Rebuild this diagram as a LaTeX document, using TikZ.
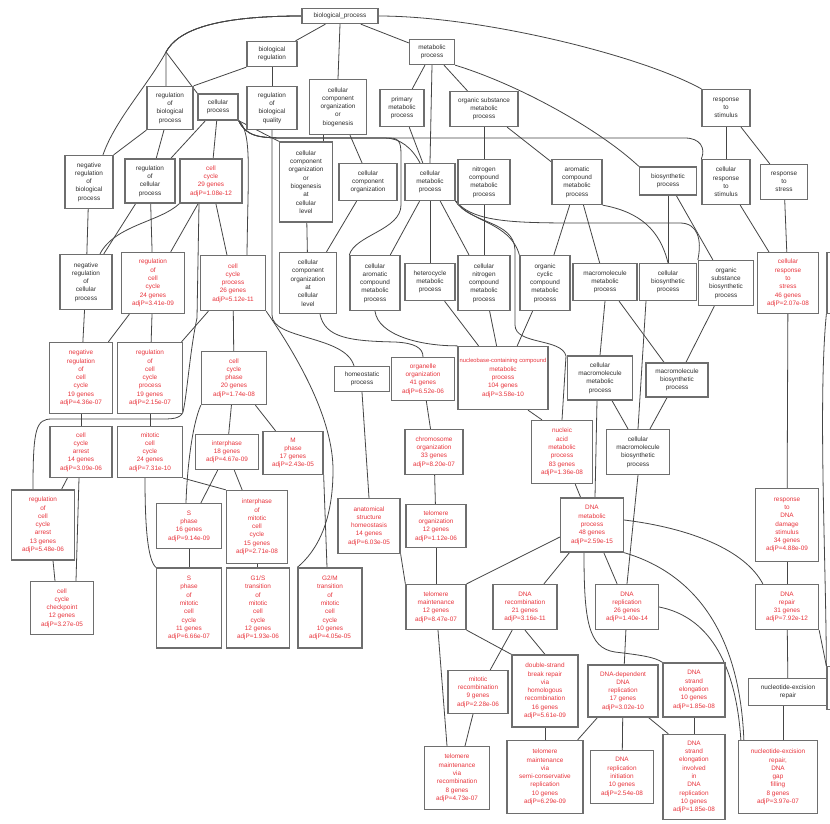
\documentclass[tikz,border=0pt]{standalone}
\usepackage{fontspec}
\setmainfont{Liberation Sans}
\usetikzlibrary{backgrounds}
\definecolor{wire}{HTML}{454545}
\definecolor{frame}{HTML}{6E6E6E}
\definecolor{hit}{HTML}{E8343C}
\definecolor{ink}{HTML}{2E2E2E}
\begin{document}
\begin{tikzpicture}[x=1pt,y=-1pt, every node/.style={font=\fontsize{6.4}{8.3}\selectfont,align=center,inner sep=1pt}, term/.style={draw=frame,line width=1.3pt,fill=white,text=ink}, sig/.style={term,text=hit}, wh/.style 2 args={minimum width=#1pt,minimum height=#2pt}, ln/.style={draw=wire,line width=0.8pt}]
\useasboundingbox (0,0) rectangle (830,823);
\clip (0,0) rectangle (830,823);
\node[term,wh={76}{15}] (bp) at (340,16) {biological\_process};
\node[term,wh={50}{25}] (breg) at (272,54) {biological\\regulation};
\node[term,wh={45}{25}] (met) at (432,52) {metabolic\\process};
\node[term,wh={46}{43}] (regbp) at (170,108) {regulation\\of\\biological\\process};
\node[term,wh={40}{26}] (cp) at (218,107) {cellular\\process};
\node[term,wh={50}{43}] (regbq) at (272,108) {regulation\\of\\biological\\quality};
\node[term,wh={57}{55}] (ccob) at (338,107) {cellular\\component\\organization\\or\\biogenesis};
\node[term,wh={44}{37}] (pmp) at (402,108) {primary\\metabolic\\process};
\node[term,wh={68}{35}] (osmp) at (484,109) {organic substance\\metabolic\\process};
\node[term,wh={48}{37}] (rstim) at (726,108) {response\\to\\stimulus};
\node[term,wh={48}{53}] (nrbp) at (89,182) {negative\\regulation\\of\\biological\\process};
\node[term,wh={50}{44}] (rcp) at (150,181) {regulation\\of\\cellular\\process};
\node[sig,wh={62}{44}] (cc) at (211,181) {cell\\cycle\\29 genes\\adjP=1.08e-12};
\node[term,wh={53}{80}] (ccobc) at (306,182) {cellular\\component\\organization\\or\\biogenesis\\at\\cellular\\level};
\node[term,wh={58}{37}] (cco) at (368,182) {cellular\\component\\organization};
\node[term,wh={50}{37}] (cmp) at (430,182) {cellular\\metabolic\\process};
\node[term,wh={52}{45}] (ncmp) at (484,182) {nitrogen\\compound\\metabolic\\process};
\node[term,wh={50}{45}] (acmp) at (577,182) {aromatic\\compound\\metabolic\\process};
\node[term,wh={57}{28}] (bsp) at (668,181) {biosynthetic\\process};
\node[term,wh={48}{45}] (crst) at (726,182) {cellular\\response\\to\\stimulus};
\node[term,wh={47}{35}] (rstr) at (784,182) {response\\to\\stress};
\node[term,wh={52}{55}] (nrcp) at (86,282) {negative\\regulation\\of\\cellular\\process};
\node[sig,wh={63}{61}] (rcc) at (153,283) {regulation\\of\\cell\\cycle\\24 genes\\adjP=3.41e-09};
\node[sig,wh={65}{55}] (ccp) at (233,283) {cell\\cycle\\process\\26 genes\\adjP=5.12e-11};
\node[term,wh={57}{61}] (ccoc) at (308,283) {cellular\\component\\organization\\at\\cellular\\level};
\node[term,wh={50}{55}] (camp) at (375,283) {cellular\\aromatic\\compound\\metabolic\\process};
\node[term,wh={50}{37}] (hmp) at (430,282) {heterocycle\\metabolic\\process};
\node[term,wh={52}{55}] (cnmp) at (484,283) {cellular\\nitrogen\\compound\\metabolic\\process};
\node[term,wh={50}{55}] (occ) at (545,283) {organic\\cyclic\\compound\\metabolic\\process};
\node[term,wh={64}{37}] (mmp) at (605,282) {macromolecule\\metabolic\\process};
\node[term,wh={57}{37}] (cbp) at (668,282) {cellular\\biosynthetic\\process};
\node[term,wh={55}{45}] (osbp) at (726,283) {organic\\substance\\biosynthetic\\process};
\node[sig,wh={61}{61}] (crs) at (788,283) {cellular\\response\\to\\stress\\46 genes\\adjP=2.07e-08};
\node[sig,wh={63}{71}] (nrcc) at (81,378) {negative\\regulation\\of\\cell\\cycle\\19 genes\\adjP=4.36e-07};
\node[sig,wh={65}{71}] (rccp) at (150,378) {regulation\\of\\cell\\cycle\\process\\19 genes\\adjP=2.15e-07};
\node[sig,wh={65}{53}] (ccph) at (234,378) {cell\\cycle\\phase\\20 genes\\adjP=1.74e-08};
\node[term,wh={55}{25}] (hsp) at (362,379) {homeostatic\\process};
\node[sig,wh={63}{43}] (oorg) at (423,379) {organelle\\organization\\41 genes\\adjP=6.52e-06};
\node[sig,wh={90}{63}] (nbc) at (503,378) {{\fontsize{5.8}{8.3}\selectfont nucleobase-containing compound}\\metabolic\\process\\104 genes\\adjP=3.58e-10};
\node[term,wh={65}{44}] (cmmp) at (600,378) {cellular\\macromolecule\\metabolic\\process};
\node[term,wh={62}{34}] (mbp) at (677,380) {macromolecule\\biosynthetic\\process};
\node[sig,wh={62}{51}] (cca) at (81,452) {cell\\cycle\\arrest\\14 genes\\adjP=3.09e-06};
\node[sig,wh={65}{51}] (mcc) at (150,452) {mitotic\\cell\\cycle\\24 genes\\adjP=7.31e-10};
\node[sig,wh={63}{35}] (inter) at (227,452) {interphase\\18 genes\\adjP=4.67e-09};
\node[sig,wh={60}{43}] (mph) at (293,453) {M\\phase\\17 genes\\adjP=2.43e-05};
\node[sig,wh={58}{45}] (corg) at (434,452) {chromosome\\organization\\33 genes\\adjP=8.20e-07};
\node[sig,wh={61}{63}] (nam) at (562,452) {nucleic\\acid\\metabolic\\process\\83 genes\\adjP=1.36e-08};
\node[term,wh={63}{45}] (cmbp) at (638,452) {cellular\\macromolecule\\biosynthetic\\process};
\node[sig,wh={63}{70}] (rca) at (43,525) {regulation\\of\\cell\\cycle\\arrest\\13 genes\\adjP=5.48e-06};
\node[sig,wh={63}{53}] (ccc) at (62,608) {cell\\cycle\\checkpoint\\12 genes\\adjP=3.27e-05};
\node[sig,wh={65}{45}] (sph) at (189,526) {S\\phase\\16 genes\\adjP=9.14e-09};
\node[sig,wh={61}{73}] (imc) at (257,527) {interphase\\of\\mitotic\\cell\\cycle\\15 genes\\adjP=2.71e-08};
\node[sig,wh={62}{55}] (ash) at (369,526) {anatomical\\structure\\homeostasis\\14 genes\\adjP=6.03e-05};
\node[sig,wh={60}{43}] (torg) at (436,526) {telomere\\organization\\12 genes\\adjP=1.12e-06};
\node[sig,wh={63}{54}] (dmp) at (592,525) {DNA\\metabolic\\process\\48 genes\\adjP=2.59e-15};
\node[sig,wh={63}{73}] (rdds) at (787,525) {response\\to\\DNA\\damage\\stimulus\\34 genes\\adjP=4.88e-09};
\node[sig,wh={65}{80}] (smc) at (189,608) {S\\phase\\of\\mitotic\\cell\\cycle\\11 genes\\adjP=6.66e-07};
\node[sig,wh={63}{80}] (gst) at (258,608) {G1/S\\transition\\of\\mitotic\\cell\\cycle\\12 genes\\adjP=1.93e-06};
\node[sig,wh={64}{80}] (gmt) at (330,608) {G2/M\\transition\\of\\mitotic\\cell\\cycle\\10 genes\\adjP=4.05e-05};
\node[sig,wh={60}{45}] (tm) at (436,607) {telomere\\maintenance\\12 genes\\adjP=8.47e-07};
\node[sig,wh={64}{45}] (drec) at (525,607) {DNA\\recombination\\21 genes\\adjP=3.16e-11};
\node[sig,wh={63}{45}] (drep) at (627,607) {DNA\\replication\\26 genes\\adjP=1.40e-14};
\node[sig,wh={63}{45}] (drpr) at (787,607) {DNA\\repair\\31 genes\\adjP=7.92e-12};
\node[sig,wh={60}{43}] (mrec) at (478,692) {mitotic\\recombination\\9 genes\\adjP=2.28e-06};
\node[sig,wh={66}{72}] (dsb) at (545,691) {double-strand\\break repair\\via\\homologous\\recombination\\16 genes\\adjP=5.61e-09};
\node[sig,wh={70}{52}] (ddr) at (623,691) {DNA-dependent\\DNA\\replication\\17 genes\\adjP=3.02e-10};
\node[sig,wh={62}{54}] (dse) at (694,690) {DNA\\strand\\elongation\\10 genes\\adjP=1.85e-08};
\node[term,wh={79}{27}] (ner) at (788,692) {nucleotide-excision\\repair};
\node[sig,wh={65}{63}] (tmr) at (457,778) {telomere\\maintenance\\via\\recombination\\8 genes\\adjP=4.73e-07};
\node[sig,wh={76}{73}] (tms) at (545,777) {telomere\\maintenance\\via\\semi-conservative\\replication\\10 genes\\adjP=6.29e-09};
\node[sig,wh={63}{53}] (dri) at (622,777) {DNA\\replication\\initiation\\10 genes\\adjP=2.54e-08};
\node[sig,wh={62}{85}] (dsei) at (694,777) {DNA\\strand\\elongation\\involved\\in\\DNA\\replication\\10 genes\\adjP=1.85e-08};
\node[sig,wh={79}{73}] (nerg) at (778,777) {nucleotide-excision\\repair,\\DNA\\gap\\filling\\8 genes\\adjP=3.97e-07};
\node[sig,wh={56}{61}] (xr1) at (855,283) {};
\node[sig,wh={56}{43}] (xr2) at (855,688) {};
\begin{scope}[on background layer]
\fill[white] (0,0) rectangle (830,823);
\draw[ln] (bp)--(breg); \draw[ln] (bp.south)--(ccob.north); \draw[ln] (bp)--(met);
\draw[ln] (bp.west) .. controls (215,16) and (178,30) .. (166,52) -- ([xshift=-4pt]regbp.north);
\draw[ln] (bp.west) .. controls (215,16) and (178,30) .. (166,52) -- (cp.north west);
\draw[ln] (bp.west) .. controls (215,16) and (178,30) .. (166,52) .. controls (148,85) and (115,120) .. ([xshift=14pt]nrbp.north);
\draw[ln] (bp.east) .. controls (480,16) and (640,55) .. (rstim.north west);
\draw[ln] (breg.south west)--(regbp.north east); \draw[ln] (breg)--(regbq);
\draw[ln] (met)--(pmp); \draw[ln] (met.south)--(cmp.north); \draw[ln] (met)--(osmp);
\draw[ln] (met.south east) .. controls (520,85) and (600,130) .. (bsp.north west);
\draw[ln] (rstim)--(crst); \draw[ln] (rstim)--(rstr);
\draw[ln] (regbp.south west)--(nrbp.north east); \draw[ln] (regbp)--(rcp);
\draw[ln] (cp)--(rcp); \draw[ln] (cp)--(cc); \draw[ln] (cp.south east)--(ccobc.north west);
\draw[ln] (cp.south east) .. controls (246,136) and (258,138) .. (285,138) -- (385,138) .. controls (400,138) and (412,148) .. ([xshift=-10pt]cmp.north);
\draw[ln] (cp.south east) .. controls (246,136) and (258,138) .. (285,138) -- (685,138) .. controls (700,138) and (706,148) .. (crst.north west);
\draw[ln] (cp.south east) .. controls (246,136) and (258,138) .. (285,138) -- (390,138) .. controls (401,138) and (401,145) .. (401,158) -- (401,205) .. controls (401,230) and (355,235) .. (camp.north west);
\draw[ln] (cp.south east) .. controls (252,132) and (248,170) .. ([xshift=14pt]ccp.north);
\draw[ln] ([xshift=-15pt]ccob.south)--([xshift=17pt]ccobc.north); \draw[ln] ([xshift=12pt]ccob.south)--([xshift=-6pt]cco.north);
\draw[ln] (ccobc)--(ccoc); \draw[ln] (cco)--(ccoc); \draw[ln] (pmp)--(cmp);
\draw[ln] (osmp.south)--(ncmp.north); \draw[ln] (osmp)--(acmp);
\draw[ln] (cmp)--(camp); \draw[ln] (cmp)--(hmp); \draw[ln] (cmp)--(cnmp);
\draw[ln] (cmp.south east) .. controls (470,222) and (510,222) .. (occ.north west);
\draw[ln] (cmp.south east) .. controls (475,224) and (520,223) .. (600,223) -- (680,223) .. controls (698,223) and (702,240) .. (osbp.north west);
\draw[ln] (cmp.south east) .. controls (470,224) and (514,220) .. (515,250) -- (515,325) .. controls (515,345) and (562,338) .. (566,356) -- (nam.north);
\draw[ln] (ncmp)--(cnmp); \draw[ln] (acmp)--(occ); \draw[ln] (acmp)--(mmp);
\draw[ln] (acmp.south east) .. controls (640,212) and (660,230) .. (cbp.north);
\draw[ln] (bsp)--(cbp); \draw[ln] (bsp)--(osbp);
\draw[ln] (crst)--(crs); \draw[ln] (rstr)--(crs);
\draw[ln] (nrbp)--(nrcp); \draw[ln] (rcp)--(nrcp); \draw[ln] (rcp)--(rcc); \draw[ln] (cc)--(rcc); \draw[ln] (cc)--(ccp);
\draw[ln] (cc.south west) .. controls (160,222) and (115,225) .. ([xshift=14pt]nrcp.north);
\draw[ln] ([xshift=-12pt]cc.south) -- (197,318) .. controls (190,350) and (187,395) .. (183,412) .. controls (180,419) and (172,419) .. (160,419) -- (52,419) .. controls (36,419) and (33,428) .. ([xshift=-10pt]rca.north);
\draw[ln] (regbq.south) -- (272,315) .. controls (272,340) and (345,335) .. ([xshift=-8pt]hsp.north);
\draw[ln] ([xshift=12pt]ccoc.south) .. controls (325,338) and (350,341) .. (395,342) .. controls (415,343) and (423,348) .. (oorg.north);
\draw[ln] (camp.south) .. controls (378,335) and (420,346) .. (nbc.north west);
\draw[ln] (hmp)--(nbc); \draw[ln] (cnmp)--(nbc); \draw[ln] (occ)--(nbc);
\draw[ln] (mmp.south)--(cmmp.north); \draw[ln] (mmp)--(mbp);
\draw[ln] ([xshift=-22pt]cbp.south)--(cmbp.north); \draw[ln] (osbp)--(mbp);
\draw[ln] ([xshift=12pt]cmmp.south)--([xshift=-10pt]cmbp.north); \draw[ln] ([xshift=-10pt]mbp.south)--([xshift=12pt]cmbp.north);
\draw[ln] ([xshift=-3pt]cmmp.south)--([xshift=3pt]dmp.north);
\draw[ln] ([xshift=25pt]nbc.south)--([xshift=-20pt]nam.north); \draw[ln] (nam)--(dmp);
\draw[ln] (crs)--(rdds); \draw[ln] (rdds)--(drpr);
\draw[ln] (nrcp)--(nrcc); \draw[ln] (rcc)--(nrcc); \draw[ln] (rcc)--(rccp); \draw[ln] (ccp)--(rccp); \draw[ln] (ccp)--(ccph);
\draw[ln] (ccp.south east) .. controls (300,360) and (333,420) .. (333,470) .. controls (333,520) and (318,550) .. (gmt.north west);
\draw[ln] (mph.south east)--([xshift=-3pt]gmt.north);
\draw[ln] (ccph)--(inter); \draw[ln] (ccph)--(mph);
\draw[ln] (ccph.south west) .. controls (192,425) and (187,470) .. ([xshift=-3pt]sph.north);
\draw[ln] (nrcc)--(cca); \draw[ln] (rccp)--(mcc); \draw[ln] (cca)--(rca);
\draw[ln] ([xshift=-2pt]cca.south)--([xshift=14pt]ccc.north); \draw[ln] ([xshift=10pt]rca.south)--([xshift=-7pt]ccc.north);
\draw[ln] (mcc.south east)--(imc.north west);
\draw[ln] ([xshift=-5pt]mcc.south) .. controls (145,530) and (148,560) .. (smc.north west);
\draw[ln] (inter)--(sph); \draw[ln] (inter)--(imc); \draw[ln] (sph)--(smc); \draw[ln] (imc)--(gst);
\draw[ln] (oorg)--(corg); \draw[ln] (corg)--(torg); \draw[ln] (torg)--(tm);
\draw[ln] (hsp.south)--(ash.north); \draw[ln] (ash.south east)--(tm.north west);
\draw[ln] (cmbp.south)--(drep.north);
\draw[ln] ([yshift=-12pt]dmp.west)--(tm.north east); \draw[ln] (dmp)--(drec); \draw[ln] (dmp)--(drep);
\draw[ln] ([yshift=5pt]dmp.east) .. controls (690,528) and (745,550) .. ([xshift=8pt]drpr.north west);
\draw[ln] ([xshift=-8pt]dmp.south) .. controls (584,620) and (588,648) .. (615,652) .. controls (640,655) and (655,657) .. (dse.north west);
\draw[ln] (dmp.south east) .. controls (700,575) and (740,640) .. ([xshift=6pt]nerg.north west);
\draw[ln] (drep.east) .. controls (700,615) and (735,650) .. ([xshift=3pt]nerg.north west);
\draw[ln] (drec)--(mrec); \draw[ln] (drec.south)--(dsb.north);
\draw[ln] ([xshift=2pt]tm.south)--([xshift=-10pt]tmr.north); \draw[ln] (tm.south east)--(dsb.north west);
\draw[ln] ([xshift=-5pt]mrec.south)--([xshift=8pt]tmr.north); \draw[ln] (dsb)--(tms);
\draw[ln] (drep)--(ddr); \draw[ln] ([xshift=10pt]ddr.south west)--([xshift=-6pt]tms.north east); \draw[ln] (ddr)--(dri);
\draw[ln] ([xshift=-10pt]ddr.south east)--([xshift=6pt]dsei.north west); \draw[ln] (dse)--(dsei);
\draw[ln] (drpr)--(ner); \draw[ln] ([xshift=-5pt]ner.south)--([xshift=5pt]nerg.north);
\draw[ln] (drpr.south east)--(xr2.north west);
\draw[ln] (xr1.south west) .. controls (818,400) and (826,560) .. (xr2.north west);
\end{scope}
\end{tikzpicture}
\end{document}
